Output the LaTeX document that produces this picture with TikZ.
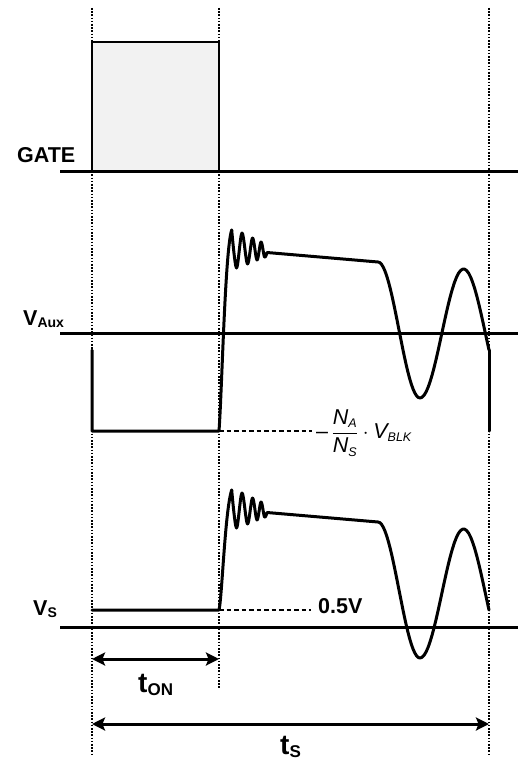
\documentclass[tikz,border=0pt]{standalone}
\usepackage{fontspec}
\setmainfont{Liberation Sans}
\usetikzlibrary{arrows.meta}
\definecolor{gatefill}{HTML}{F2F2F2}
\tikzset{
  axis/.style={line width=3pt},
  wave/.style={line width=3pt, line join=round, line cap=round},
  guide/.style={line width=1.5pt, dash pattern=on 1.6pt off 1.6pt},
  level/.style={line width=2.5pt, dash pattern=on 4.5pt off 3pt},
  span/.style={
    line width=3pt,
    {Stealth[length=13pt,width=13pt,inset=2.5pt]}-{Stealth[length=13pt,width=13pt,inset=2.5pt]}
  },
  signame/.style={
    anchor=base west,
    inner sep=0pt,
    font=\bfseries\fontsize{21.5}{21.5}\selectfont
  },
  timename/.style={
    anchor=base west,
    inner sep=0pt,
    font=\bfseries\fontsize{28}{28}\selectfont
  }
}
\newcommand\sigsub[1]{\raisebox{-2.5pt}{\fontsize{14}{14}\selectfont #1}}
\newcommand\timesub[1]{\raisebox{-3.5pt}{\fontsize{17}{17}\selectfont #1}}
\newcommand\itsub[1]{\mbox{\fontsize{12.5}{12.5}\selectfont\itshape #1}}

\begin{document}
\begin{tikzpicture}[x=1pt,y=-1pt]
    \useasboundingbox (0,0) rectangle (518,762);
    \def\xon{92}
    \def\xoff{219}
    \def\xend{489}
    % time markers
    \coordinate (g0) at (\xon,8);   \coordinate (g0b) at (\xon,755);
    \coordinate (g1) at (\xoff,8);  \coordinate (g1b) at (\xoff,689);
    \coordinate (g2) at (\xend,8);  \coordinate (g2b) at (\xend,755);
    \draw[guide] (g0) -- (g0b);
    \draw[guide] (g1) -- (g1b);
    \draw[guide] (g2) -- (g2b);
    % gate pulse
    \draw[line width=2.8pt, fill=gatefill] (\xon,172) -- (\xon,42) -- (\xoff,42) -- (\xoff,172);
    \draw[axis] (60,172) -- (518,172);
    \draw[axis] (60,333) -- (518,333);
    \draw[axis] (60,627) -- (518,627);
    \node[signame] (gate) at (17,163) {GATE};
    \node[signame] (vaux) at (23,325) {V\sigsub{Aux}};
    \node[signame] (vs) at (33,615) {V\sigsub{S}};
    % rising edges
    \draw[wave] (\xon,350) -- (\xon,431) -- (\xoff,431)
        .. controls (222,390) and (225,250) .. (231.7,230);
    \draw[wave] (\xon,610) -- (\xoff,610)
        .. controls (222,598) and (225,510) .. (231.7,490);
    \draw[level] (\xoff,431) -- (312,431);
    \draw[level] (\xoff,610) -- (311,610);
    % ringing, plateau and resonance
    \foreach \dy in {0,-260}{
      \draw[wave, yshift=\dy pt]
        plot[smooth, tension=0.55] coordinates {(231.7,230) (236.5,268) (242,233) (247.5,264)
          (252.5,238) (257,260) (261,242) (264.5,257) (267,252.5)}
        -- (378,262)
        -- plot[domain=378:420, samples=25] (\x, {330-68*cos(180*(\x-378)/42)})
        -- plot[domain=420:489, samples=35] (\x, {333.5+64.5*cos(180*(\x-420)/43.6)});
    }
    \draw[wave] (\xend,350) -- (\xend,431);
    \node[anchor=west, inner sep=0pt, font=\fontsize{21.5}{21.5}\selectfont] (ratio) at (316,433)
        {$\displaystyle \mbox{–}\,\frac{\mbox{\itshape N}_{\itsub{A}}}{\mbox{\itshape N}_{\itsub{S}}}\cdot\mbox{\itshape V}_{\itsub{BLK}}$};
    \node[signame] (half) at (318,613) {0.5V};
    % durations
    \coordinate (on0) at (\xon,659);  \coordinate (on1) at (\xoff,659);
    \coordinate (s0) at (\xon,724);   \coordinate (s1) at (\xend,724);
    \draw[span] (on0) -- (on1);
    \draw[span] (s0) -- (s1);
    \node[timename] (ton) at (138,692) {t\timesub{ON}};
    \node[timename] (ts) at (280,754) {t\timesub{S}};
\end{tikzpicture}
\end{document}
